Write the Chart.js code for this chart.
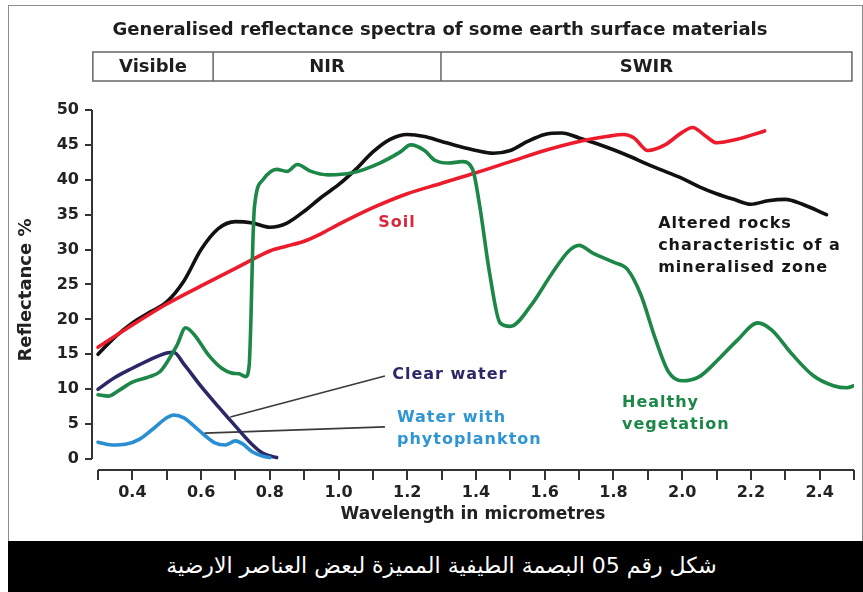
<!DOCTYPE html>
<html>
<head>
<meta charset="utf-8">
<script src="https://cdn.jsdelivr.net/npm/chart.js@4.4.1/dist/chart.umd.min.js"></script>
<style>
  html, body { margin: 0; padding: 0; background: #fff; }
  #wrap { position: relative; width: 863px; height: 592px; overflow: hidden; background: #fff; }
  #plot { position: absolute; left: 0; top: 0; width: 863px; height: 541px; }
  #frame { position: absolute; left: 8px; top: 5px; width: 855px; height: 537px; border: 1px solid #8c8c8c; border-bottom: none; box-sizing: border-box; pointer-events: none; }
  #caption { position: absolute; left: 8px; top: 541px; width: 855px; height: 51px; background: #000; color: #fff;
             font-family: "DejaVu Sans", sans-serif; font-size: 22px; line-height: 50px; text-align: center;
             direction: rtl; padding-left: 12px; box-sizing: border-box; }
</style>
</head>
<body>
<div id="wrap">
  <div id="plot"><canvas id="spectraChart"></canvas></div>
  <div id="frame"></div>
  <div id="caption">شكل رقم 05 البصمة الطيفية المميزة لبعض العناصر الارضية</div>
</div>
<script>
// values (wavelength in micrometres, reflectance in %)
const rockX = [0.30, 0.35, 0.40, 0.45, 0.50, 0.55, 0.60, 0.65, 0.70, 0.75, 0.80, 0.85, 0.90, 0.95, 1.00, 1.05, 1.10, 1.15, 1.20, 1.25, 1.30, 1.35, 1.40, 1.45, 1.50, 1.55, 1.60, 1.65, 1.70, 1.75, 1.80, 1.85, 1.90, 1.95, 2.00, 2.05, 2.10, 2.15, 2.20, 2.25, 2.30, 2.35, 2.42];
const rockY = [15.0, 17.5, 19.5, 21.0, 22.5, 25.5, 30.0, 33.0, 34.0, 33.8, 33.2, 33.8, 35.5, 37.5, 39.3, 41.5, 44.0, 45.8, 46.5, 46.2, 45.5, 44.8, 44.2, 43.8, 44.2, 45.5, 46.5, 46.7, 46.0, 45.2, 44.3, 43.3, 42.2, 41.2, 40.2, 39.0, 38.0, 37.2, 36.5, 37.0, 37.2, 36.5, 35.0];

const soilX = [0.30, 0.40, 0.50, 0.60, 0.70, 0.75, 0.80, 0.85, 0.90, 0.95, 1.00, 1.10, 1.20, 1.30, 1.40, 1.50, 1.60, 1.70, 1.78, 1.83, 1.86, 1.90, 1.95, 2.00, 2.03, 2.07, 2.10, 2.16, 2.24];
const soilY = [16.0, 19.2, 22.2, 24.8, 27.3, 28.6, 29.8, 30.5, 31.2, 32.3, 33.6, 36.0, 38.0, 39.5, 41.0, 42.6, 44.2, 45.5, 46.2, 46.5, 46.0, 44.2, 45.0, 46.8, 47.5, 46.2, 45.3, 45.8, 47.0];

const vegX = [0.30, 0.33, 0.36, 0.40, 0.45, 0.48, 0.50, 0.53, 0.555, 0.58, 0.62, 0.66, 0.69, 0.71, 0.73, 0.74, 0.745, 0.75, 0.755, 0.78, 0.82, 0.85, 0.88, 0.92, 0.97, 1.04, 1.12, 1.18, 1.21, 1.25, 1.28, 1.32, 1.36, 1.39, 1.41, 1.44, 1.47, 1.50, 1.56, 1.62, 1.67, 1.70, 1.74, 1.80, 1.84, 1.88, 1.92, 1.96, 2.00, 2.05, 2.10, 2.16, 2.22, 2.26, 2.32, 2.38, 2.44, 2.48, 2.50];
const vegY = [9.2, 9.0, 9.8, 11.0, 11.8, 12.5, 13.8, 16.3, 18.8, 17.8, 15.0, 13.0, 12.3, 12.2, 11.8, 13.5, 20.0, 30.0, 36.0, 40.0, 41.5, 41.2, 42.2, 41.2, 40.7, 41.0, 42.4, 44.0, 45.0, 44.2, 42.8, 42.4, 42.6, 41.5, 36.5, 26.5, 19.5, 19.0, 22.0, 26.5, 29.8, 30.6, 29.5, 28.2, 27.2, 23.5, 17.5, 12.5, 11.2, 11.8, 14.0, 17.0, 19.5, 18.5, 15.0, 12.0, 10.5, 10.2, 10.5];

const clearX = [0.30, 0.35, 0.40, 0.45, 0.50, 0.52, 0.55, 0.60, 0.65, 0.70, 0.75, 0.78, 0.82];
const clearY = [10.0, 11.7, 13.0, 14.2, 15.2, 15.3, 13.6, 10.4, 7.5, 4.7, 2.0, 0.8, 0.2];

const planktonX = [0.30, 0.34, 0.38, 0.42, 0.46, 0.50, 0.52, 0.55, 0.58, 0.61, 0.64, 0.67, 0.70, 0.72, 0.75, 0.78, 0.80];
const planktonY = [2.4, 2.0, 2.1, 2.8, 4.3, 5.9, 6.3, 5.9, 4.7, 3.4, 2.3, 2.0, 2.6, 2.2, 1.0, 0.4, 0.2];

// leader lines from the water labels to their curves
const clearLeaderX = [0.685, 1.135];
const clearLeaderY = [6.0, 11.9];
const planktonLeaderX = [0.61, 1.135];
const planktonLeaderY = [3.7, 4.6];

const xTickValues = [0.3, 0.4, 0.5, 0.6, 0.7, 0.8, 0.9, 1.0, 1.1, 1.2, 1.3, 1.4, 1.5, 1.6, 1.7, 1.8, 1.9, 2.0, 2.1, 2.2, 2.3, 2.4, 2.5];
const xTickLabels = ['', '0.4', '', '0.6', '', '0.8', '', '1.0', '', '1.2', '', '1.4', '', '1.6', '', '1.8', '', '2.0', '', '2.2', '', '2.4', ''];
const yTickValues = [0, 5, 10, 15, 20, 25, 30, 35, 40, 45, 50];
const yTickLabels = ['0', '5', '10', '15', '20', '25', '30', '35', '40', '45', '50'];

const bandNames = ['Visible', 'NIR', 'SWIR'];
const bandEdges = [0.285, 0.635, 1.298, 2.494];

const FONT = '"DejaVu Sans", Verdana, sans-serif';

function pts(xs, ys) {
    return xs.map((x, i) => ({x: x, y: ys[i]}));
}

function curve(label, xs, ys, color) {
    return {
        label: label,
        data: pts(xs, ys),
        borderColor: color,
        borderWidth: 3.6,
        pointRadius: 0,
        fill: false,
        cubicInterpolationMode: 'monotone',
        borderCapStyle: 'round',
        borderJoinStyle: 'round'
    };
}

function leader(xs, ys) {
    return {
        label: 'leader',
        data: pts(xs, ys),
        borderColor: '#3a3a3a',
        borderWidth: 1.6,
        pointRadius: 0,
        tension: 0
    };
}

// text labels, placed in data units
const curveLabels = [
    {lines: ['Soil'], x: 1.17, y: 33.9, color: '#d8283d', align: 'center'},
    {lines: ['Altered rocks', 'characteristic of a', 'mineralised zone'], x: 1.93, y: 33.7, color: '#161616', align: 'left'},
    {lines: ['Clear water'], x: 1.156, y: 12.0, color: '#2b2868', align: 'left'},
    {lines: ['Water with', 'phytoplankton'], x: 1.17, y: 5.9, color: '#2f95d3', align: 'left'},
    {lines: ['Healthy', 'vegetation'], x: 1.825, y: 8.0, color: '#1d8748', align: 'left'}
];

const decorations = {
    id: 'decorations',
    afterDraw(chart) {
        const ctx = chart.ctx;
        const xs = chart.scales.x, ys = chart.scales.y;
        const area = chart.chartArea;
        ctx.save();

        // axis lines
        ctx.strokeStyle = '#333';
        ctx.lineWidth = 2;
        ctx.beginPath();
        ctx.moveTo(xs.getPixelForValue(0.3), area.bottom);
        ctx.lineTo(xs.getPixelForValue(2.5), area.bottom);
        ctx.moveTo(area.left, ys.getPixelForValue(0));
        ctx.lineTo(area.left, ys.getPixelForValue(50));
        ctx.stroke();

        // title
        ctx.fillStyle = '#1e1e1e';
        ctx.font = 'bold 18px ' + FONT;
        ctx.textAlign = 'center';
        ctx.textBaseline = 'middle';
        ctx.fillText('Generalised reflectance spectra of some earth surface materials', 440, 30);

        // band box
        const top = 52, bottom = 81;
        ctx.strokeStyle = '#666';
        ctx.lineWidth = 1.5;
        const px = bandEdges.map(v => xs.getPixelForValue(v));
        ctx.strokeRect(px[0], top, px[3] - px[0], bottom - top);
        ctx.beginPath();
        ctx.moveTo(px[1], top); ctx.lineTo(px[1], bottom);
        ctx.moveTo(px[2], top); ctx.lineTo(px[2], bottom);
        ctx.stroke();
        ctx.font = 'bold 18px ' + FONT;
        bandNames.forEach((name, i) => {
            ctx.fillText(name, (px[i] + px[i + 1]) / 2, (top + bottom) / 2 + 1);
        });

        // curve labels
        ctx.font = 'bold 16px ' + FONT;
        ctx.letterSpacing = '1px';
        curveLabels.forEach(l => {
            ctx.fillStyle = l.color;
            ctx.textAlign = l.align;
            const x0 = xs.getPixelForValue(l.x);
            const y0 = ys.getPixelForValue(l.y);
            l.lines.forEach((t, i) => ctx.fillText(t, x0, y0 + i * 22));
        });
        ctx.restore();
    }
};

const tickFont = {family: FONT, weight: 'bold', size: 16};

new Chart(document.getElementById('spectraChart'), {
    type: 'line',
    data: {
        datasets: [
            curve('Healthy vegetation', vegX, vegY, '#1d8748'),
            curve('Soil', soilX, soilY, '#ec1c2c'),
            curve('Altered rocks', rockX, rockY, '#111111'),
            curve('Water with phytoplankton', planktonX, planktonY, '#2a8fd2'),
            curve('Clear water', clearX, clearY, '#2b2868'),
            leader(clearLeaderX, clearLeaderY),
            leader(planktonLeaderX, planktonLeaderY)
        ]
    },
    options: {
        responsive: true,
        maintainAspectRatio: false,
        animation: false,
        layout: {padding: {top: 110, right: 9, left: 0, bottom: 0}},
        plugins: {legend: {display: false}, tooltip: {enabled: false}},
        scales: {
            x: {
                type: 'linear',
                min: 0.2825,
                max: 2.5,
                afterFit: s => { s.height = 71; },
                afterBuildTicks: s => { s.ticks = xTickValues.map(v => ({value: v})); },
                border: {display: false},
                grid: {drawOnChartArea: false, tickLength: 10, color: '#333', lineWidth: 2},
                ticks: {autoSkip: false, maxRotation: 0, padding: 3, color: '#222', font: tickFont,
                        callback: (v, i) => xTickLabels[i]},
                title: {display: true, text: 'Wavelength in micrometres', color: '#222',
                        font: {family: FONT, weight: 'bold', size: 17}, padding: {top: 0, bottom: 16}}
            },
            y: {
                type: 'linear',
                min: -1.58,
                max: 50,
                afterFit: s => { s.width = 92; },
                afterBuildTicks: s => { s.ticks = yTickValues.map(v => ({value: v})); },
                border: {display: false},
                grid: {drawOnChartArea: false, tickLength: 7, color: '#333', lineWidth: 2},
                ticks: {padding: 6, color: '#222', font: tickFont, callback: (v, i) => yTickLabels[i]},
                title: {display: true, text: 'Reflectance %', color: '#222',
                        font: {family: FONT, weight: 'bold', size: 18}, padding: {top: 16, bottom: 0}}
            }
        }
    },
    plugins: [decorations]
});
</script>
</body>
</html>
